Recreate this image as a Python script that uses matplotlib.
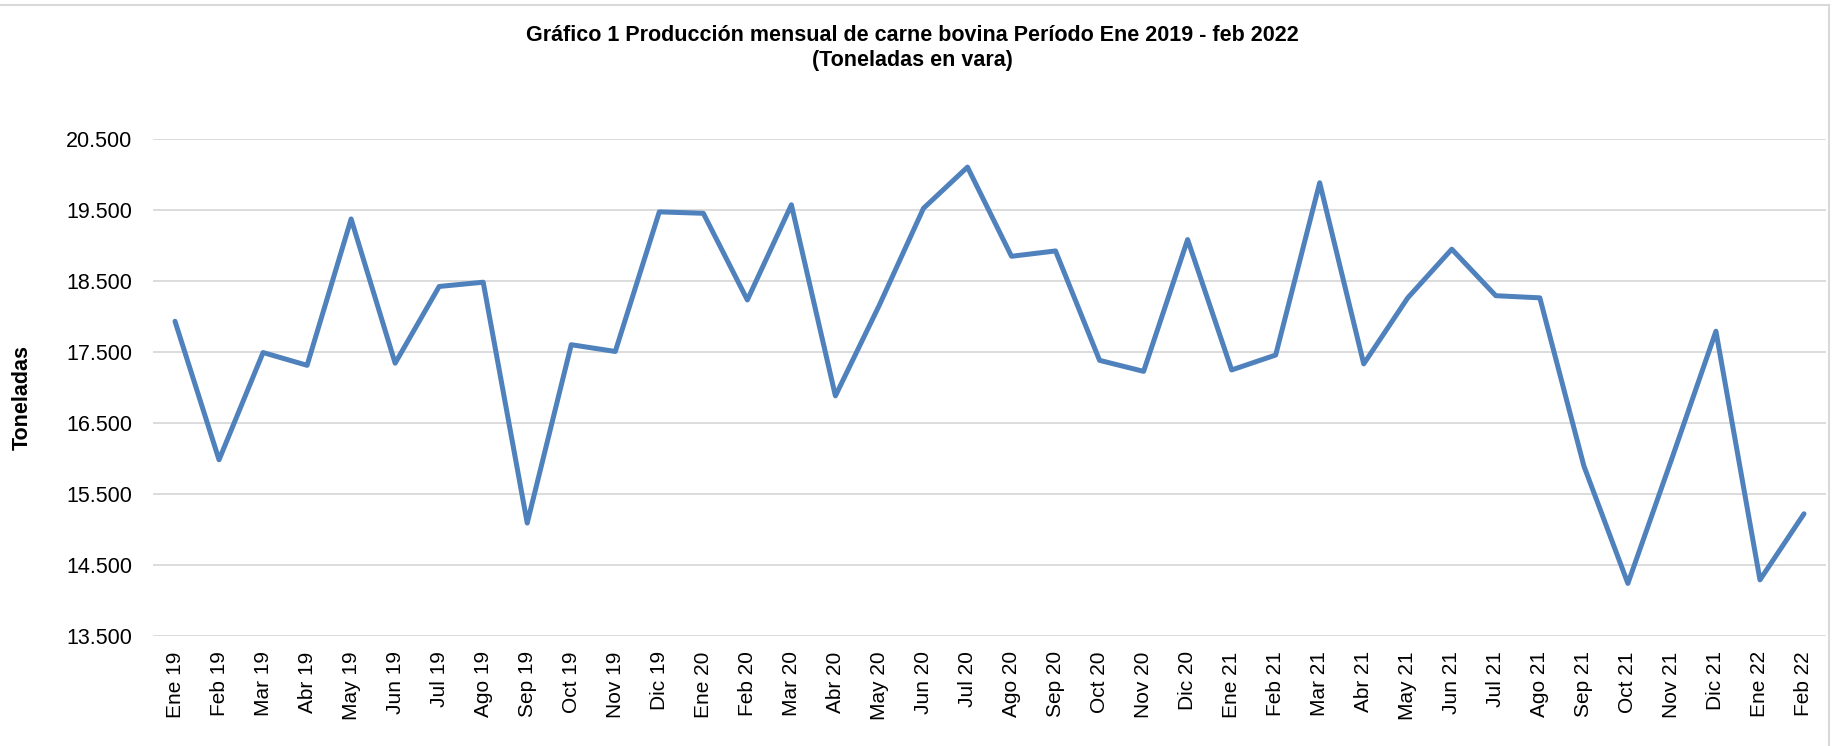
import matplotlib
matplotlib.use("Agg")
import matplotlib.pyplot as plt
from matplotlib.lines import Line2D
from matplotlib.ticker import FuncFormatter, FixedLocator

plt.rcParams['font.family'] = ['Liberation Sans', 'DejaVu Sans']

months = ["Ene 19", "Feb 19", "Mar 19", "Abr 19", "May 19", "Jun 19", "Jul 19", "Ago 19",
          "Sep 19", "Oct 19", "Nov 19", "Dic 19",
          "Ene 20", "Feb 20", "Mar 20", "Abr 20", "May 20", "Jun 20", "Jul 20", "Ago 20",
          "Sep 20", "Oct 20", "Nov 20", "Dic 20",
          "Ene 21", "Feb 21", "Mar 21", "Abr 21", "May 21", "Jun 21", "Jul 21", "Ago 21",
          "Sep 21", "Oct 21", "Nov 21", "Dic 21",
          "Ene 22", "Feb 22"]

toneladas = [17930, 15980, 17490, 17310, 19370, 17340, 18420, 18480,
             15090, 17600, 17505, 19470,
             19450, 18230, 19570, 16880, 18160, 19520, 20100, 18845,
             18920, 17380, 17225, 19080,
             17245, 17455, 19880, 17330, 18260, 18945, 18290, 18260,
             15895, 14240, 16000, 17790,
             14290, 15220]

y_ticks = [13500, 14500, 15500, 16500, 17500, 18500, 19500, 20500]

title = "Gráfico 1 Producción mensual de carne bovina Período Ene 2019 - feb 2022\n(Toneladas en vara)"
ylabel = "Toneladas"

W, H = 1837, 746
fig = plt.figure(figsize=(W / 100, H / 100), dpi=100)
ax = fig.add_axes([153 / W, 110 / H, (1826 - 153) / W, (636 - 138.7) / H])

x = list(range(len(months)))
ax.plot(x, toneladas, color="#4F81BD", lw=3.6, solid_capstyle="round",
        solid_joinstyle="round", zorder=3)

ax.set_xlim(-0.5, len(months) - 0.5)
ax.set_ylim(y_ticks[0], y_ticks[-1])
ax.yaxis.set_major_locator(FixedLocator(y_ticks))
ax.yaxis.set_major_formatter(FuncFormatter(lambda v, p: f"{v:,.0f}".replace(",", ".")))
ax.set_xticks(x)
ax.set_xticklabels(months, rotation=90, fontsize=15)
ax.tick_params(axis="y", labelsize=15.5, length=0, pad=15)
ax.tick_params(axis="x", length=0, pad=11)

ax.grid(axis="y", color="#D9D9D9", lw=1.3, zorder=0)
ax.set_axisbelow(True)
for s in ax.spines.values():
    s.set_visible(False)

ax.set_ylabel(ylabel, fontsize=15.5, fontweight="bold")
ax.yaxis.set_label_coords(33 / W, 1 - 398 / H, transform=fig.transFigure)

fig.text(912 / W, 1 - 48 / H, title, ha="center", va="center", fontsize=15.5,
         fontweight="bold", linespacing=1.25)

# chart-area border (light gray, cropped on left and bottom)
fig.add_artist(Line2D([0, 1829 / W], [1 - 5 / H, 1 - 5 / H], transform=fig.transFigure,
                      color="#D9D9D9", lw=1.5))
fig.add_artist(Line2D([1829 / W, 1829 / W], [0, 1 - 5 / H], transform=fig.transFigure,
                      color="#D9D9D9", lw=1.5))

fig.savefig("out.png", dpi=100)
